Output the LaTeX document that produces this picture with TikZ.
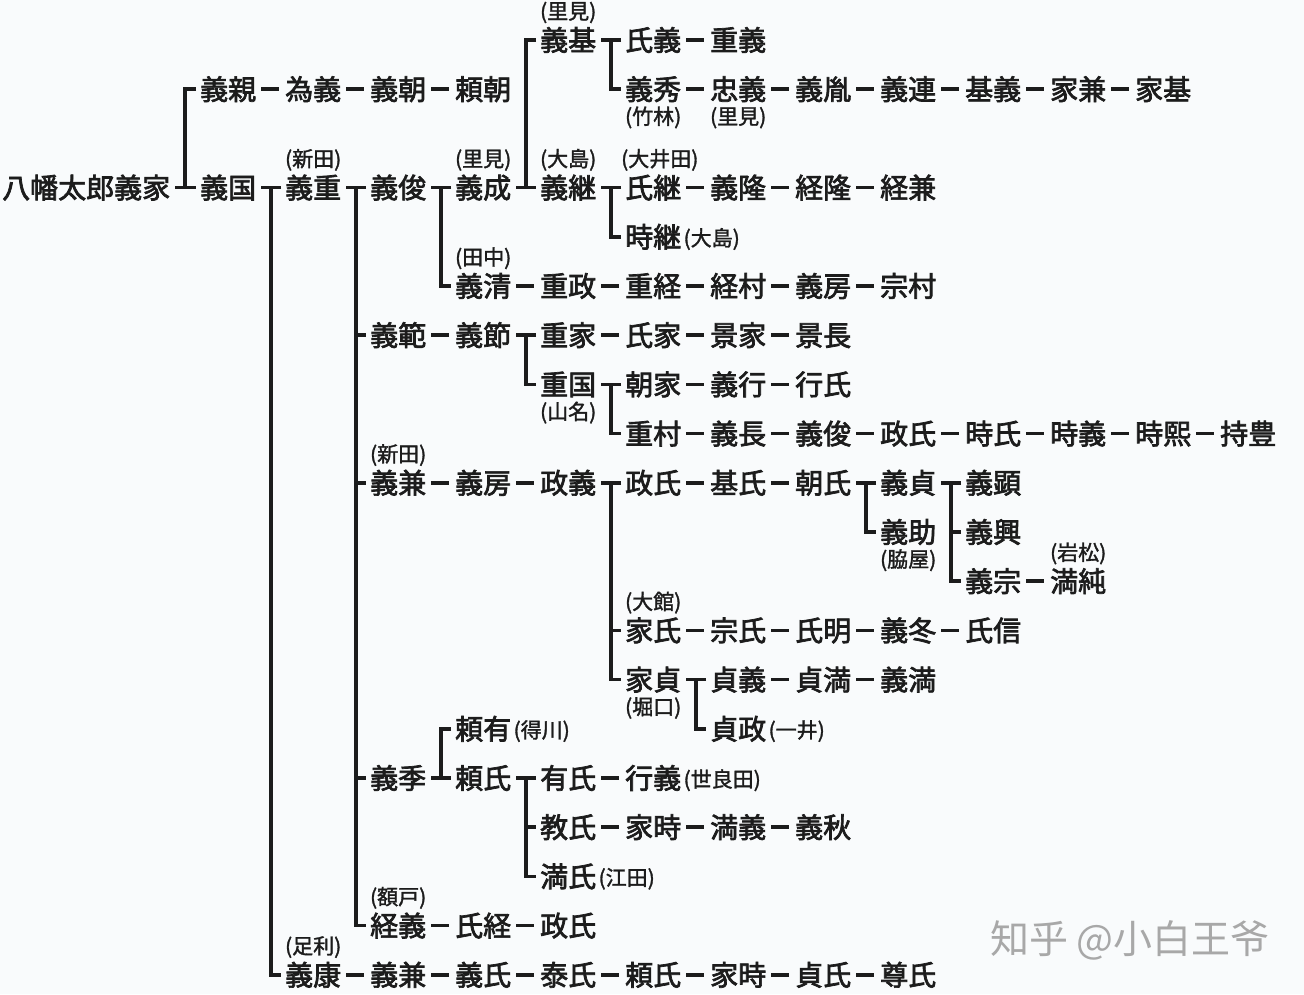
\documentclass[tikz,border=0pt]{standalone}
\usepackage{fontspec}
\newfontfamily\jpfont[FakeBold=2.5]{Noto Sans CJK JP}
\newfontfamily\jplab[FakeBold=1.5]{Noto Sans CJK JP}
\newfontfamily\scfont{Noto Sans CJK SC}
\usetikzlibrary{calc}
\definecolor{bg}{RGB}{249,251,252}
\definecolor{ink}{RGB}{28,28,28}
\definecolor{wm}{RGB}{168,168,168}
\newcommand\pname[4]{\node[nm] (#1) at ({200+85*(#2-1)},{40+49.2*(#3)}) {#4};}
\newcommand\dashto[2]{\draw[dashl] (#1.east) -- (#2.west);}
\newcommand\famtree[4]{%
  \coordinate (#1) at ($(#2.east)!0.5!(#3.west)$);
  \draw[brk] ([xshift=5pt]#2.east) -- (#1 |- #2.east);
  \draw[brk] ([xshift=-4pt]#3.west) -- (#1 |- #3.west) -- (#1 |- #4.west) -- ([xshift=-4pt]#4.west);}
\newcommand\midtick[2]{\draw[brk] (#1 |- #2.west) -- ([xshift=-4pt]#2.west);}
\newcommand\labup[3]{\node[lab] (#1) at ([yshift=29pt]#2.center) {#3};}
\newcommand\labdown[3]{\node[lab] (#1) at ([yshift=-27pt]#2.center) {#3};}
\newcommand\labin[3]{\node[lab,anchor=west] (#1) at ([xshift=2pt,yshift=-1pt]#2.east) {#3};}
\begin{document}
\begin{tikzpicture}[x=1pt,y=-1pt,
  nm/.style={font=\jpfont\fontsize{28}{30}\selectfont, inner sep=0pt,
    text height=24.6pt, text depth=3.4pt, anchor=west, text=ink},
  lab/.style={font=\jplab\fontsize{21}{22}\selectfont, inner sep=0pt,
    text height=18.5pt, text depth=2.5pt, text=ink},
  dashl/.style={draw=ink, line width=3.6pt, shorten <=5pt, shorten >=6pt},
  brk/.style={draw=ink, line width=3.6pt, line join=miter}]
\fill[bg] (0,0) rectangle (1304,994);
\useasboundingbox (0,0) rectangle (1304,994);

% ---------- names ----------
\node[nm] (root) at (2,{40+49.2*3}) {八幡太郎義家};
\pname{r0c5}{5}{0}{義基}\pname{r0c6}{6}{0}{氏義}\pname{r0c7}{7}{0}{重義}
\pname{r1c1}{1}{1}{義親}\pname{r1c2}{2}{1}{為義}\pname{r1c3}{3}{1}{義朝}\pname{r1c4}{4}{1}{頼朝}
\pname{r1c6}{6}{1}{義秀}\pname{r1c7}{7}{1}{忠義}\pname{r1c8}{8}{1}{義胤}\pname{r1c9}{9}{1}{義連}
\pname{r1c10}{10}{1}{基義}\pname{r1c11}{11}{1}{家兼}\pname{r1c12}{12}{1}{家基}
\pname{r3c1}{1}{3}{義国}\pname{r3c2}{2}{3}{義重}\pname{r3c3}{3}{3}{義俊}\pname{r3c4}{4}{3}{義成}
\pname{r3c5}{5}{3}{義継}\pname{r3c6}{6}{3}{氏継}\pname{r3c7}{7}{3}{義隆}\pname{r3c8}{8}{3}{経隆}\pname{r3c9}{9}{3}{経兼}
\pname{r4c6}{6}{4}{時継}
\pname{r5c4}{4}{5}{義清}\pname{r5c5}{5}{5}{重政}\pname{r5c6}{6}{5}{重経}\pname{r5c7}{7}{5}{経村}\pname{r5c8}{8}{5}{義房}\pname{r5c9}{9}{5}{宗村}
\pname{r6c3}{3}{6}{義範}\pname{r6c4}{4}{6}{義節}\pname{r6c5}{5}{6}{重家}\pname{r6c6}{6}{6}{氏家}\pname{r6c7}{7}{6}{景家}\pname{r6c8}{8}{6}{景長}
\pname{r7c5}{5}{7}{重国}\pname{r7c6}{6}{7}{朝家}\pname{r7c7}{7}{7}{義行}\pname{r7c8}{8}{7}{行氏}
\pname{r8c6}{6}{8}{重村}\pname{r8c7}{7}{8}{義長}\pname{r8c8}{8}{8}{義俊}\pname{r8c9}{9}{8}{政氏}
\pname{r8c10}{10}{8}{時氏}\pname{r8c11}{11}{8}{時義}\pname{r8c12}{12}{8}{時熙}\pname{r8c13}{13}{8}{持豊}
\pname{r9c3}{3}{9}{義兼}\pname{r9c4}{4}{9}{義房}\pname{r9c5}{5}{9}{政義}\pname{r9c6}{6}{9}{政氏}
\pname{r9c7}{7}{9}{基氏}\pname{r9c8}{8}{9}{朝氏}\pname{r9c9}{9}{9}{義貞}\pname{r9c10}{10}{9}{義顕}
\pname{r10c9}{9}{10}{義助}\pname{r10c10}{10}{10}{義興}
\pname{r11c10}{10}{11}{義宗}\pname{r11c11}{11}{11}{満純}
\pname{r12c6}{6}{12}{家氏}\pname{r12c7}{7}{12}{宗氏}\pname{r12c8}{8}{12}{氏明}\pname{r12c9}{9}{12}{義冬}\pname{r12c10}{10}{12}{氏信}
\pname{r13c6}{6}{13}{家貞}\pname{r13c7}{7}{13}{貞義}\pname{r13c8}{8}{13}{貞満}\pname{r13c9}{9}{13}{義満}
\pname{r14c4}{4}{14}{頼有}\pname{r14c7}{7}{14}{貞政}
\pname{r15c3}{3}{15}{義季}\pname{r15c4}{4}{15}{頼氏}\pname{r15c5}{5}{15}{有氏}\pname{r15c6}{6}{15}{行義}
\pname{r16c5}{5}{16}{教氏}\pname{r16c6}{6}{16}{家時}\pname{r16c7}{7}{16}{満義}\pname{r16c8}{8}{16}{義秋}
\pname{r17c5}{5}{17}{満氏}
\pname{r18c3}{3}{18}{経義}\pname{r18c4}{4}{18}{氏経}\pname{r18c5}{5}{18}{政氏}
\pname{r19c2}{2}{19}{義康}\pname{r19c3}{3}{19}{義兼}\pname{r19c4}{4}{19}{義氏}\pname{r19c5}{5}{19}{泰氏}
\pname{r19c6}{6}{19}{頼氏}\pname{r19c7}{7}{19}{家時}\pname{r19c8}{8}{19}{貞氏}\pname{r19c9}{9}{19}{尊氏}

% ---------- family labels ----------
\labup{L1}{r0c5}{(里見)}
\labdown{L2}{r1c6}{(竹林)}
\labdown{L3}{r1c7}{(里見)}
\labup{L4}{r3c2}{(新田)}
\labup{L5}{r3c4}{(里見)}
\labup{L6}{r3c5}{(大島)}
\node[lab,anchor=west] (L7) at ([xshift=-4pt,yshift=29pt]r3c6.west) {(大井田)};
\labin{L8}{r4c6}{(大島)}
\labup{L9}{r5c4}{(田中)}
\labdown{L10}{r7c5}{(山名)}
\labup{L11}{r9c3}{(新田)}
\labdown{L12}{r10c9}{(脇屋)}
\labup{L13}{r11c11}{(岩松)}
\labup{L14}{r12c6}{(大館)}
\labdown{L15}{r13c6}{(堀口)}
\labin{L16}{r14c4}{(得川)}
\labin{L17}{r14c7}{(一井)}
\labin{L18}{r15c6}{(世良田)}
\labin{L19}{r17c5}{(江田)}
\labup{L20}{r18c3}{(額戸)}
\labup{L21}{r19c2}{(足利)}

% ---------- single-line successions ----------
\dashto{r0c6}{r0c7}
\dashto{r1c1}{r1c2}\dashto{r1c2}{r1c3}\dashto{r1c3}{r1c4}
\dashto{r1c6}{r1c7}\dashto{r1c7}{r1c8}\dashto{r1c8}{r1c9}\dashto{r1c9}{r1c10}\dashto{r1c10}{r1c11}\dashto{r1c11}{r1c12}
\dashto{r3c6}{r3c7}\dashto{r3c7}{r3c8}\dashto{r3c8}{r3c9}
\dashto{r5c4}{r5c5}\dashto{r5c5}{r5c6}\dashto{r5c6}{r5c7}\dashto{r5c7}{r5c8}\dashto{r5c8}{r5c9}
\dashto{r6c3}{r6c4}\dashto{r6c5}{r6c6}\dashto{r6c6}{r6c7}\dashto{r6c7}{r6c8}
\dashto{r7c6}{r7c7}\dashto{r7c7}{r7c8}
\dashto{r8c6}{r8c7}\dashto{r8c7}{r8c8}\dashto{r8c8}{r8c9}\dashto{r8c9}{r8c10}\dashto{r8c10}{r8c11}\dashto{r8c11}{r8c12}\dashto{r8c12}{r8c13}
\dashto{r9c3}{r9c4}\dashto{r9c4}{r9c5}\dashto{r9c6}{r9c7}\dashto{r9c7}{r9c8}
\dashto{r11c10}{r11c11}
\dashto{r12c6}{r12c7}\dashto{r12c7}{r12c8}\dashto{r12c8}{r12c9}\dashto{r12c9}{r12c10}
\dashto{r13c7}{r13c8}\dashto{r13c8}{r13c9}
\dashto{r15c5}{r15c6}
\dashto{r16c5}{r16c6}\dashto{r16c6}{r16c7}\dashto{r16c7}{r16c8}
\dashto{r18c3}{r18c4}\dashto{r18c4}{r18c5}
\dashto{r19c2}{r19c3}\dashto{r19c3}{r19c4}\dashto{r19c4}{r19c5}\dashto{r19c5}{r19c6}\dashto{r19c6}{r19c7}\dashto{r19c7}{r19c8}\dashto{r19c8}{r19c9}

% ---------- branchings ----------
\famtree{v1}{root}{r1c1}{r3c1}
\famtree{v2}{r3c1}{r3c2}{r19c2}
\famtree{v3}{r3c2}{r3c3}{r18c3}\midtick{v3}{r6c3}\midtick{v3}{r9c3}\midtick{v3}{r15c3}
\famtree{v4}{r3c3}{r3c4}{r5c4}
\famtree{v5}{r3c4}{r0c5}{r3c5}
\famtree{v6}{r0c5}{r0c6}{r1c6}
\famtree{v7}{r3c5}{r3c6}{r4c6}
\famtree{v8}{r6c4}{r6c5}{r7c5}
\famtree{v9}{r7c5}{r7c6}{r8c6}
\famtree{v10}{r9c5}{r9c6}{r13c6}\midtick{v10}{r12c6}
\famtree{v11}{r9c8}{r9c9}{r10c9}
\famtree{v12}{r9c9}{r9c10}{r11c10}\midtick{v12}{r10c10}
\famtree{v13}{r13c6}{r13c7}{r14c7}
\famtree{v14}{r15c3}{r14c4}{r15c4}
\famtree{v15}{r15c4}{r15c5}{r17c5}\midtick{v15}{r16c5}

% ---------- watermark ----------
\node[font=\scfont\fontsize{39}{42}\selectfont, text=wm, anchor=west, inner sep=0pt] (wmk) at (990,940) {知乎 @小白王爷};
\end{tikzpicture}
\end{document}
